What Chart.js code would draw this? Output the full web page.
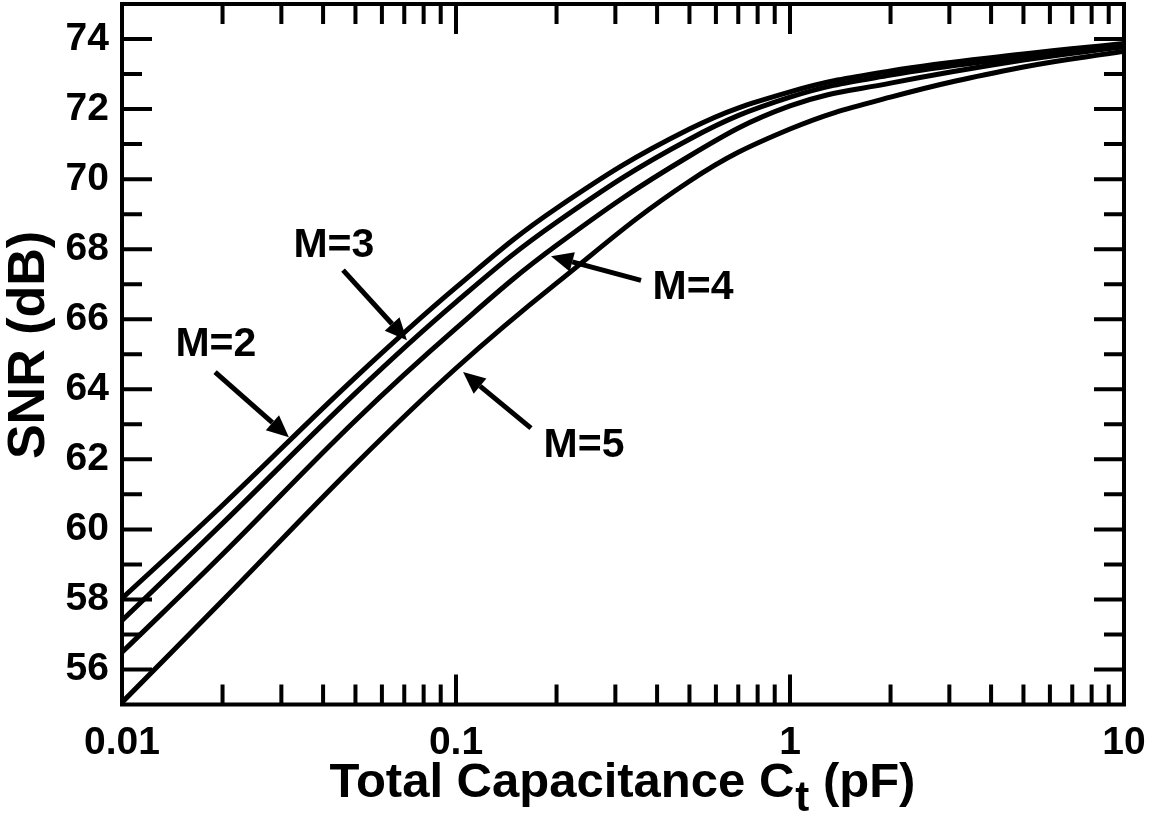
<!DOCTYPE html>
<html>
<head>
<meta charset="utf-8">
<script src="https://cdn.jsdelivr.net/npm/chart.js@4.4.1/dist/chart.umd.min.js"></script>
<style>
  html, body { margin: 0; padding: 0; background: #fff; }
  #wrap { width: 1160px; height: 817px; }
</style>
</head>
<body>
<div id="wrap"><canvas id="snrChart"></canvas></div>
<script>
// values
var capacitance = [0.01, 0.02, 0.05, 0.1, 0.2, 0.5, 1, 2, 5, 10];
var snrM2 = [58.03, 60.69, 64.34, 66.91, 69.17, 71.43, 72.49, 73.09, 73.57, 73.87];
var snrM3 = [57.40, 60.17, 63.89, 66.49, 68.77, 71.14, 72.34, 72.97, 73.49, 73.84];
var snrM4 = [56.49, 59.29, 63.11, 65.74, 68.11, 70.66, 72.09, 72.74, 73.40, 73.78];
var snrM5 = [55.06, 57.97, 61.86, 64.60, 67.03, 69.94, 71.43, 72.34, 73.20, 73.65];
var xDecades = [0.01, 0.1, 1, 10];
var yMin = 55, yMax = 75;

// label text, label position, arrow tail, arrow tip (data units)
var notes = [
    { text: "M=2", at: [0.0191, 65.26], from: [0.0190, 64.49], to: [0.0316, 62.63] },
    { text: "M=3", at: [0.0431, 68.11], from: [0.0459, 67.40], to: [0.0713, 65.40] },
    { text: "M=4", at: [0.5125, 66.91], from: [0.3580, 67.11], to: [0.1925, 67.80] },
    { text: "M=5", at: [0.2417, 62.40], from: [0.1677, 62.89], to: [0.1050, 64.49] }
];

var FONT = '"Liberation Sans", Arial, Helvetica, sans-serif';

function toPoints(ys) {
    return capacitance.map(function(c, i) { return { x: c, y: ys[i] }; });
}

function series(label, ys) {
    return {
        label: label,
        data: toPoints(ys),
        borderColor: '#000',
        borderWidth: 5,
        pointRadius: 0,
        fill: false,
        tension: 0.4
    };
}

var framePlugin = {
    id: 'frame',
    afterDraw: function(chart) {
        var ctx = chart.ctx;
        var a = chart.chartArea;
        var xs = chart.scales.x, ys = chart.scales.y;
        ctx.save();
        ctx.strokeStyle = '#000';
        ctx.fillStyle = '#000';
        ctx.lineWidth = 4;
        ctx.lineCap = 'butt';
        ctx.strokeRect(a.left, a.top, a.right - a.left, a.bottom - a.top);

        // y ticks, in on both sides
        for (var v = yMin + 1; v < yMax; v++) {
            var py = ys.getPixelForValue(v);
            var len = (v % 2 === 0) ? 30 : 20;
            ctx.beginPath();
            ctx.moveTo(a.left, py); ctx.lineTo(a.left + len, py);
            ctx.moveTo(a.right, py); ctx.lineTo(a.right - len, py);
            ctx.stroke();
        }
        // x ticks, in on bottom and top
        for (var d = 0; d < xDecades.length - 1; d++) {
            for (var k = 1; k <= 9; k++) {
                if (k === 1 && d === 0) continue;
                var px = xs.getPixelForValue(xDecades[d] * k);
                var l = (k === 1) ? 30 : 20;
                ctx.beginPath();
                ctx.moveTo(px, a.bottom); ctx.lineTo(px, a.bottom - l);
                ctx.moveTo(px, a.top); ctx.lineTo(px, a.top + l);
                ctx.stroke();
            }
        }

        // annotations
        ctx.font = 'bold 41px ' + FONT;
        ctx.textAlign = 'center';
        ctx.textBaseline = 'middle';
        notes.forEach(function(n) {
            var tx = xs.getPixelForValue(n.at[0]), ty = ys.getPixelForValue(n.at[1]);
            ctx.fillText(n.text, tx, ty);
            var x0 = xs.getPixelForValue(n.from[0]), y0 = ys.getPixelForValue(n.from[1]);
            var x1 = xs.getPixelForValue(n.to[0]), y1 = ys.getPixelForValue(n.to[1]);
            var ang = Math.atan2(y1 - y0, x1 - x0);
            var head = 22, half = 10;
            var bx = x1 - head * Math.cos(ang), by = y1 - head * Math.sin(ang);
            ctx.lineWidth = 5;
            ctx.beginPath();
            ctx.moveTo(x0, y0); ctx.lineTo(bx, by);
            ctx.stroke();
            ctx.beginPath();
            ctx.moveTo(x1, y1);
            ctx.lineTo(bx + half * Math.sin(ang), by - half * Math.cos(ang));
            ctx.lineTo(bx - half * Math.sin(ang), by + half * Math.cos(ang));
            ctx.closePath();
            ctx.fill();
        });

        // axis titles
        ctx.save();
        ctx.translate(30, 345);
        ctx.rotate(-Math.PI / 2);
        ctx.font = 'bold 52px ' + FONT;
        ctx.textAlign = 'center';
        ctx.textBaseline = 'middle';
        ctx.fillText('SNR (dB)', 0, 0);
        ctx.restore();

        var bigFont = 'bold 49px ' + FONT, subFont = 'bold 42px ' + FONT;
        var p1 = 'Total Capacitance C', p2 = 't', p3 = ' (pF)';
        ctx.font = bigFont;
        var w1 = ctx.measureText(p1).width, w3 = ctx.measureText(p3).width;
        ctx.font = subFont;
        var w2 = ctx.measureText(p2).width;
        var start = 622 - (w1 + w2 + w3) / 2;
        var base = 797;
        ctx.textAlign = 'left';
        ctx.textBaseline = 'alphabetic';
        ctx.font = bigFont;
        ctx.fillText(p1, start, base);
        ctx.font = subFont;
        ctx.fillText(p2, start + w1 + 1, base + 14);
        ctx.font = bigFont;
        ctx.fillText(p3, start + w1 + w2 + 1, base);
        ctx.restore();
    }
};

var chart = new Chart(document.getElementById('snrChart'), {
    type: 'line',
    data: {
        datasets: [
            series('M=2', snrM2),
            series('M=3', snrM3),
            series('M=4', snrM4),
            series('M=5', snrM5)
        ]
    },
    options: {
        responsive: true,
        maintainAspectRatio: false,
        animation: false,
        layout: { padding: { left: 0, top: 4, right: 36, bottom: 0 } },
        plugins: {
            legend: { display: false },
            tooltip: { enabled: false }
        },
        scales: {
            x: {
                type: 'logarithmic',
                min: 0.01,
                max: 10,
                grid: { display: false },
                border: { display: false },
                afterFit: function(scale) {
                    scale.height = 112.5;
                    scale.paddingLeft = 0;
                    scale.paddingRight = 0;
                },
                ticks: {
                    autoSkip: false,
                    maxRotation: 0,
                    padding: 7,
                    color: '#000',
                    font: { family: FONT, size: 39, weight: 'bold' },
                    callback: function(value) {
                        return xDecades.indexOf(value) >= 0 ? String(value) : '';
                    }
                }
            },
            y: {
                min: yMin,
                max: yMax,
                grid: { display: false },
                border: { display: false },
                afterFit: function(scale) {
                    scale.width = 122;
                    scale.paddingTop = 0;
                    scale.paddingBottom = 0;
                },
                ticks: {
                    autoSkip: false,
                    stepSize: 1,
                    padding: 5,
                    color: '#000',
                    font: { family: FONT, size: 39, weight: 'bold' },
                    callback: function(value) {
                        return (value % 2 === 0 && value > yMin && value < yMax) ? String(value) : '';
                    }
                }
            }
        }
    },
    plugins: [framePlugin]
});
</script>
</body>
</html>
